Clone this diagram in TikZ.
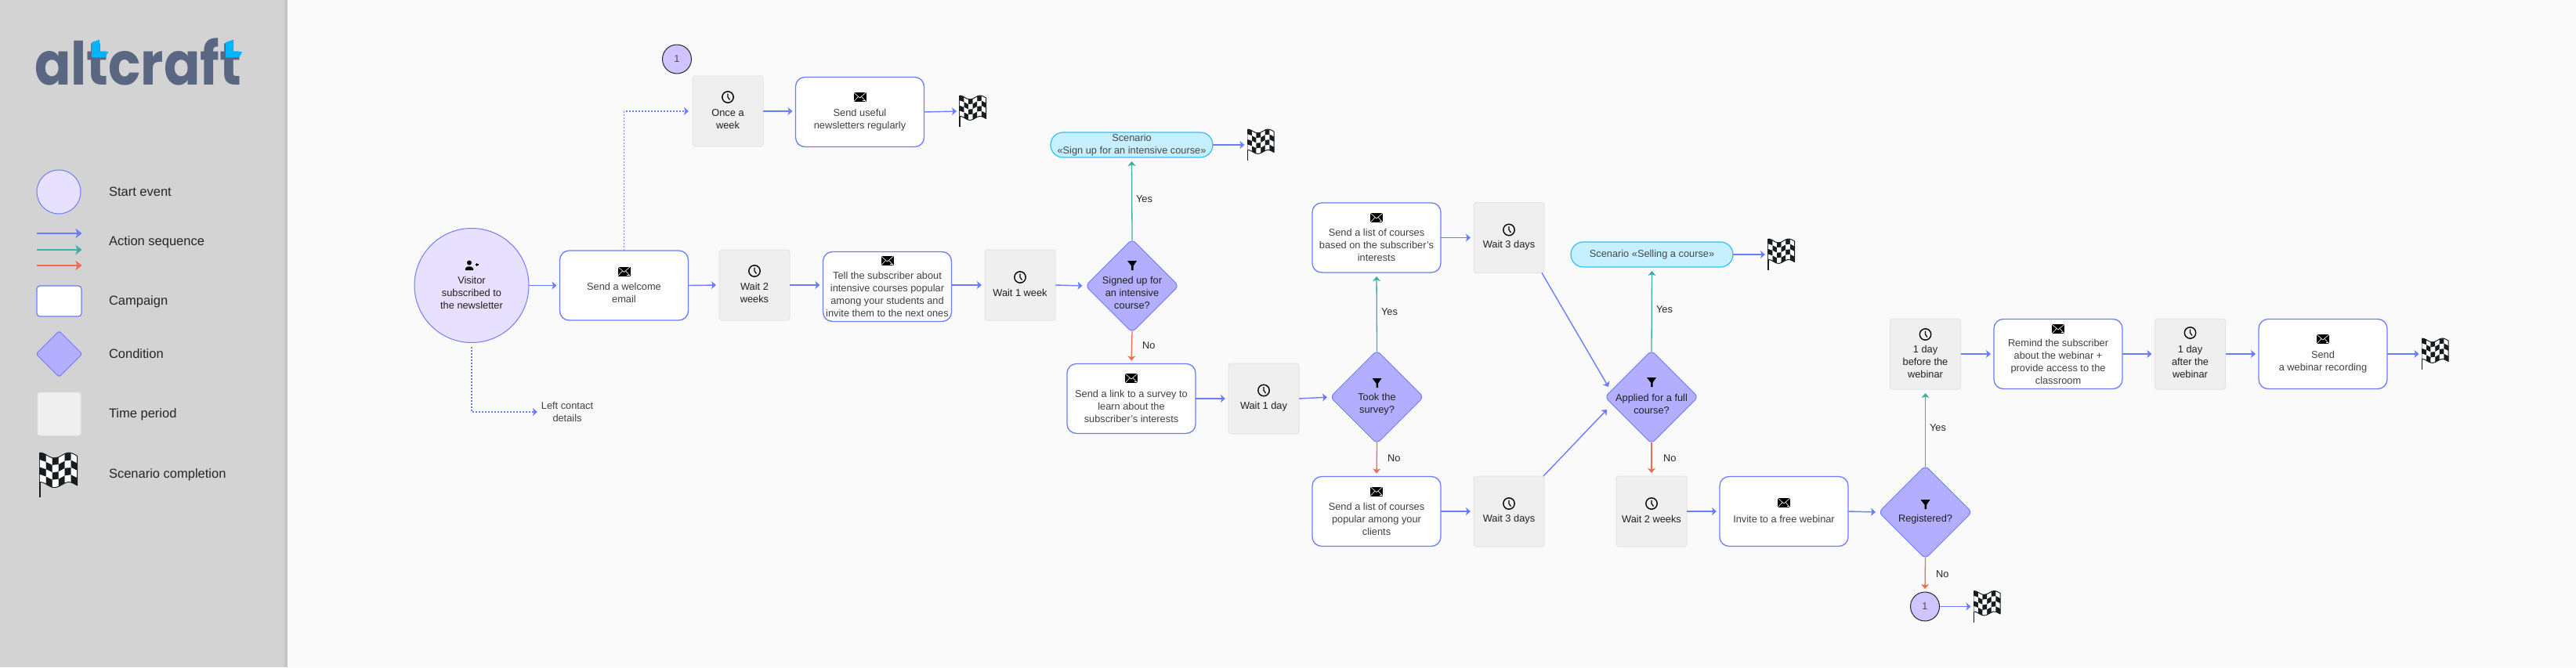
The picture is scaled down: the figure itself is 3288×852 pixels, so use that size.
\documentclass[tikz,border=0pt]{standalone}
\usepackage{fontspec}
\setmainfont{Liberation Sans}
\newfontfamily\logofont{Poppins}
\usetikzlibrary{arrows.meta,positioning,calc,shapes.geometric}
\definecolor{pagegray}{HTML}{FAFAFA}
\definecolor{panelgray}{HTML}{D3D3D3}
\definecolor{paneledge}{HTML}{C6C6C6}
\definecolor{flowblue}{HTML}{6B7DFF}
\definecolor{yesgreen}{HTML}{3FAFA3}
\definecolor{nored}{HTML}{EE6A50}
\definecolor{startfill}{HTML}{E8E0FF}
\definecolor{condfill}{HTML}{B4AEFF}
\definecolor{onefill}{HTML}{CFC4FF}
\definecolor{timefill}{HTML}{EFEFEF}
\definecolor{timeedge}{HTML}{E4E4E4}
\definecolor{pillfill}{HTML}{C6F0FF}
\definecolor{pilledge}{HTML}{2FC0FF}
\definecolor{flagblack}{HTML}{171C1F}
\definecolor{logoslate}{HTML}{5A6782}
\definecolor{logoblue}{HTML}{00B4FF}
\newcommand{\iconline}{\rule{0pt}{14pt}\\[-1pt]}
\newcommand{\condtext}[1]{\makebox[0pt]{\smash{\raisebox{-2.5pt}{\parbox[c]{110pt}{\centering\iconline #1}}}}}
\newcommand{\flagat}[2]{\node[flagbox] (#1) at #2 {}; \pic at (#1.north west) {flagicon};}
\tikzset{
  mailicon/.pic={
    \fill[black] (-8,-6) rectangle (8,6);
    \draw[white,line width=.6] (-8,-6) -- (0,1) -- (8,-6) (-8,6) -- (-2,-.5) (8,6) -- (2,-.5);
    \fill[white] (3.5,4.2) rectangle (7,5);
  },
  clockicon/.pic={
    \draw[black,line width=1.4] (0,0) circle (7.2);
    \draw[black,line width=1.2] (0,-4.5) -- (0,0) -- (2.5,3.5);
  },
  funnelicon/.pic={
    \fill[black] (-6,-6) -- (6,-6) -- (1.6,.5) -- (1.6,6) -- (-1,6) -- (-1,.5) -- cycle;
  },
  personicon/.pic={
    \fill[black] (-3,-3.5) circle (3);
    \fill[black] (-8,6) -- (-8,3.5) .. controls (-7,.5) and (1,.5) .. (2,3.5) -- (2,6) -- cycle;
    \draw[black,line width=1.2] (4.5,-1) -- (9,-1) (6.75,-3.2) -- (6.75,1.2);
  },
  flagicon/.pic={
    \draw[flagblack,line width=1.2] (0,0) -- (0,40);
    \foreach \col in {0,...,5}{
      \foreach \row in {0,...,3}{
        \pgfmathsetmacro\xa{\col*5.6}
        \pgfmathsetmacro\xb{(\col+1)*5.6}
        \pgfmathsetmacro\wa{2.5-2.5*cos(\xa*13.8)+\row*6.6}
        \pgfmathsetmacro\wb{2.5-2.5*cos(\xb*13.8)+\row*6.6}
        \pgfmathtruncatemacro\odd{mod(\col+\row,2)}
        \ifnum\odd=0 \def\cellcol{flagblack}\else\def\cellcol{white}\fi
        \path[fill=\cellcol,draw=\cellcol,line width=.2] (\xa,\wa) -- (\xb,\wb) -- (\xb,\wb+6.6) -- (\xa,\wa+6.6) -- cycle;
      }
    }
    \draw[flagblack,line width=1,line join=round] plot[domain=0:33.6,samples=13] (\x,{2.5-2.5*cos(\x*13.8)})
      -- plot[domain=33.6:0,samples=13] (\x,{28.9-2.5*cos(\x*13.8)});
  }
}
\begin{document}
\begin{tikzpicture}[
    x=1pt, y=-1pt,
    every node/.style={inner sep=0pt, outer sep=0pt, align=center, font=\fontsize{12.8}{16}\selectfont},
    campaign/.style={draw=flowblue, fill=white, line width=1.3, rounded corners=12, minimum width=164, minimum height=89, text=black!75},
    timebox/.style={draw=timeedge, fill=timefill, line width=1, rounded corners=3, minimum width=90, minimum height=90, text=black!88},
    cond/.style={diamond, aspect=1, draw=flowblue, fill=condfill, line width=1, rounded corners=6, minimum size=119, text=black!88},
    pill/.style={draw=pilledge, fill=pillfill, line width=1.2, rounded corners=16, minimum width=207, minimum height=32, text=black!72},
    onemark/.style={circle, draw=black!85, fill=onefill, line width=1, minimum size=37, text=black!70},
    answer/.style={text=black!85},
    flagbox/.style={minimum width=34, minimum height=40},
    leglabel/.style={anchor=west, font=\fontsize{16.5}{20}\selectfont, text=black!85},
    flow/.style={-{Stealth[length=6,width=10,inset=1.5]}, flowblue, line width=1.4, shorten >=4},
    dotflow/.style={-{Stealth[length=6,width=10,inset=1.5]}, flowblue, line width=1.6, dash pattern=on 2pt off 2pt, shorten >=5},
    yesflow/.style={-{Stealth[length=6,width=10,inset=1.5]}, yesgreen, line width=1.3, shorten >=5, shorten <=-1.5},
    noflow/.style={-{Stealth[length=6,width=10,inset=1.5]}, nored, line width=1.3, shorten >=4, shorten <=-1.5},
    legflow/.style={-{Stealth[length=8,width=12.5,inset=2]}, line width=1.2}
  ]
  \fill[pagegray] (0,0) rectangle (3288,852);
  \useasboundingbox (0,0) rectangle (3288,852);
  \fill[panelgray] (0,0) rectangle (363,852);
  \fill[paneledge] (363,0) rectangle (367,852);

  % logo
  \node[anchor=base west, font=\fontsize{76}{76}\logofont\bfseries, text=logoslate, transform shape, xscale=.9] (logo) at (44,108) {altcraft};
  \fill[logoblue] (117,54) -- (127,50.7) -- (127,66) -- (138.3,66) -- (134.3,73.3) -- (117,73.3) -- cycle;
  \fill[logoblue] (288,54) -- (298,50.7) -- (298,66) -- (309.3,66) -- (305.3,73.3) -- (288,73.3) -- cycle;

  % legend
  \node[circle, draw=flowblue, fill=startfill, line width=1, minimum size=56] (legstart) at (75,245) {};
  \node[draw=flowblue, fill=white, line width=1.2, rounded corners=4, minimum width=57, minimum height=39] (legcamp) at (75.5,384.5) {};
  \node[diamond, aspect=1, draw=flowblue, fill=condfill, line width=1, rounded corners=3, minimum size=59] (legcond) at (75.5,452) {};
  \node[draw=timeedge, fill=timefill, line width=1, rounded corners=3, minimum width=55, minimum height=55] (legtime) at (75.5,528.5) {};
  \node[minimum width=49, minimum height=56] (legflag) at (75.5,606) {};
  \pic[scale=1.42] at (legflag.north west) {flagicon};
  \foreach \hue/\yy in {flowblue/298,yesgreen/319,nored/339}{
    \coordinate (legA\yy) at (47,\yy);
    \coordinate (legB\yy) at (104.5,\yy);
    \draw[legflow,\hue] (legA\yy) -- (legB\yy);
  }
  \node[leglabel] (txstart) at (139,245) {Start event};
  \node[leglabel] (txflow) at (139,309) {Action sequence};
  \node[leglabel] (txcamp) at (139,385) {Campaign};
  \node[leglabel] (txcond) at (139,452) {Condition};
  \node[leglabel] (txtime) at (139,529) {Time period};
  \node[leglabel] (txflag) at (139,606) {Scenario completion};

  % top branch
  \node[onemark] (oneA) at (864,75.5) {1};
  \node[timebox] (once) at (929,142) {\iconline Once a\\week};
  \node[campaign] (useful) at (1097.5,143) {\iconline Send useful\\newsletters regularly};
  \flagat{flagA}{(1242,142)}

  % main row
  \node[circle, draw=flowblue, fill=startfill, line width=1, minimum size=146, text=black!88] (start) at (602,364.5) {\iconline Visitor\\subscribed to\\the newsletter};
  \node[campaign] (welcome) at (796.5,364.5) {\iconline Send a welcome\\email};
  \node[timebox] (waitB) at (963,364) {\iconline Wait 2\\weeks};
  \node[campaign] (tell) at (1132.5,366) {\iconline Tell the subscriber about\\intensive courses popular\\among your students and\\invite them to the next ones};
  \node[timebox] (waitC) at (1302,364) {\iconline Wait 1 week};
  \node[text=black!75] (left) at (724,526) {Left contact\\details};

  % first condition
  \node[cond] (signed) at (1445,365) {\condtext{Signed up for\\an intensive\\course?}};
  \node[pill] (pillA) at (1444.5,185) {Scenario\\«Sign up for an intensive course»};
  \flagat{flagB}{(1609.5,185)}
  \node[campaign] (survey) at (1444,509) {\iconline Send a link to a survey to\\learn about the\\subscriber's interests};
  \node[timebox] (waitD) at (1613,509) {\iconline Wait 1 day};

  % second condition
  \node[cond] (took) at (1757.5,507) {\condtext{Took the\\survey?}};
  \node[campaign] (based) at (1757,303.5) {\iconline Send a list of courses\\based on the subscriber's\\interests};
  \node[timebox] (waitE) at (1926,303.5) {\iconline Wait 3 days};
  \node[campaign] (popular) at (1757,653) {\iconline Send a list of courses\\popular among your\\clients};
  \node[timebox] (waitF) at (1926,653) {\iconline Wait 3 days};

  % third condition
  \node[cond] (applied) at (2108,507) {\condtext{Applied for a full\\course?}};
  \node[pill] (pillB) at (2108.5,325) {Scenario «Selling a course»};
  \flagat{flagC}{(2274,325)}
  \node[timebox] (waitG) at (2108,653) {\iconline Wait 2 weeks};
  \node[campaign] (invite) at (2277,653) {\iconline Invite to a free webinar};
  \coordinate (appliedA) at (2053,494);
  \coordinate (appliedB) at (2051,523);

  % fourth condition
  \node[cond] (registered) at (2457.5,654) {\condtext{Registered?}};
  \node[timebox] (before) at (2457.5,452) {\iconline 1 day\\before the\\webinar};
  \node[campaign] (remind) at (2627,452) {\iconline Remind the subscriber\\about the webinar +\\provide access to the\\classroom};
  \node[timebox] (after) at (2795.5,452) {\iconline 1 day\\after the\\webinar};
  \node[campaign] (recording) at (2965,452) {\iconline Send\\a webinar recording};
  \flagat{flagD}{(3108.5,452)}
  \node[onemark] (oneB) at (2457,774.5) {1};
  \flagat{flagE}{(2536.5,774.5)}

  % icons
  \foreach \nm/\dy in {welcome/-18,useful/-19,tell/-33,survey/-26,based/-25.5,popular/-25.5,invite/-11,remind/-32,recording/-19}
    \pic at ($(\nm)+(0,\dy)$) {mailicon};
  \foreach \nm/\dy in {once/-18,waitB/-18,waitC/-10,waitD/-10.5,waitE/-10,waitF/-10,waitG/-10,before/-25,after/-27}
    \pic at ($(\nm)+(0,\dy)$) {clockicon};
  \foreach \nm/\dy in {signed/-26,took/-18,applied/-19,registered/-10}
    \pic at ($(\nm)+(0,\dy)$) {funnelicon};
  \pic at ($(start)+(0,-25.5)$) {personicon};

  % connectors
  \draw[flow] (start.east) -- (welcome.west);
  \draw[flow] (welcome.east) -- (waitB.west);
  \draw[flow] (waitB.east) -- (waitB.east -| tell.west);
  \draw[flow] (tell.east |- waitC) -- (waitC.west);
  \draw[flow] (waitC.east) -- (signed.west);
  \draw[flow] (once.east) -- (once.east -| useful.west);
  \draw[flow] (useful.east) -- (flagA.west);
  \draw[dotflow] (welcome.north) |- (once.west);
  \draw[dotflow, shorten <=5] (start.south) |- (left.west);
  \draw[yesflow] (signed.north) -- (pillA.south);
  \draw[flow] (pillA.east) -- (flagB.west);
  \draw[noflow] (signed.south) -- (survey.north);
  \draw[flow] (survey.east) -- (waitD.west);
  \draw[flow] (waitD.east) -- (took.west);
  \draw[yesflow] (took.north) -- (based.south);
  \draw[noflow] (took.south) -- (popular.north);
  \draw[flow] (based.east) -- (waitE.west);
  \draw[flow] (popular.east) -- (waitF.west);
  \draw[flow, shorten >=0] ([xshift=-3]waitE.south east) -- (appliedA);
  \draw[flow, shorten >=0] ([xshift=-1]waitF.north east) -- (appliedB);
  \draw[yesflow] (applied.north) -- (pillB.south);
  \draw[flow] (pillB.east) -- (flagC.west);
  \draw[noflow] (applied.south) -- (waitG.north);
  \draw[flow] (waitG.east) -- (invite.west);
  \draw[flow] (invite.east) -- (registered.west);
  \draw[yesflow] (registered.north) -- (before.south);
  \draw[noflow] (registered.south) -- (oneB.north);
  \draw[flow] (before.east) -- (remind.west);
  \draw[flow] (remind.east) -- (after.west);
  \draw[flow] (after.east) -- (recording.west);
  \draw[flow] (recording.east) -- (flagD.west);
  \draw[flow] (oneB.east) -- (flagE.west);

  % answers
  \node[answer, anchor=west] (yesA) at (1450,254) {Yes};
  \node[answer, anchor=west] (noA) at (1458,441) {No};
  \node[answer, anchor=west] (yesB) at (1763,398) {Yes};
  \node[answer, anchor=west] (noB) at (1771,585) {No};
  \node[answer, anchor=west] (yesC) at (2114,395) {Yes};
  \node[answer, anchor=west] (noC) at (2123,585) {No};
  \node[answer, anchor=west] (yesD) at (2463,546.5) {Yes};
  \node[answer, anchor=west] (noD) at (2471,733) {No};
\end{tikzpicture}
\end{document}
